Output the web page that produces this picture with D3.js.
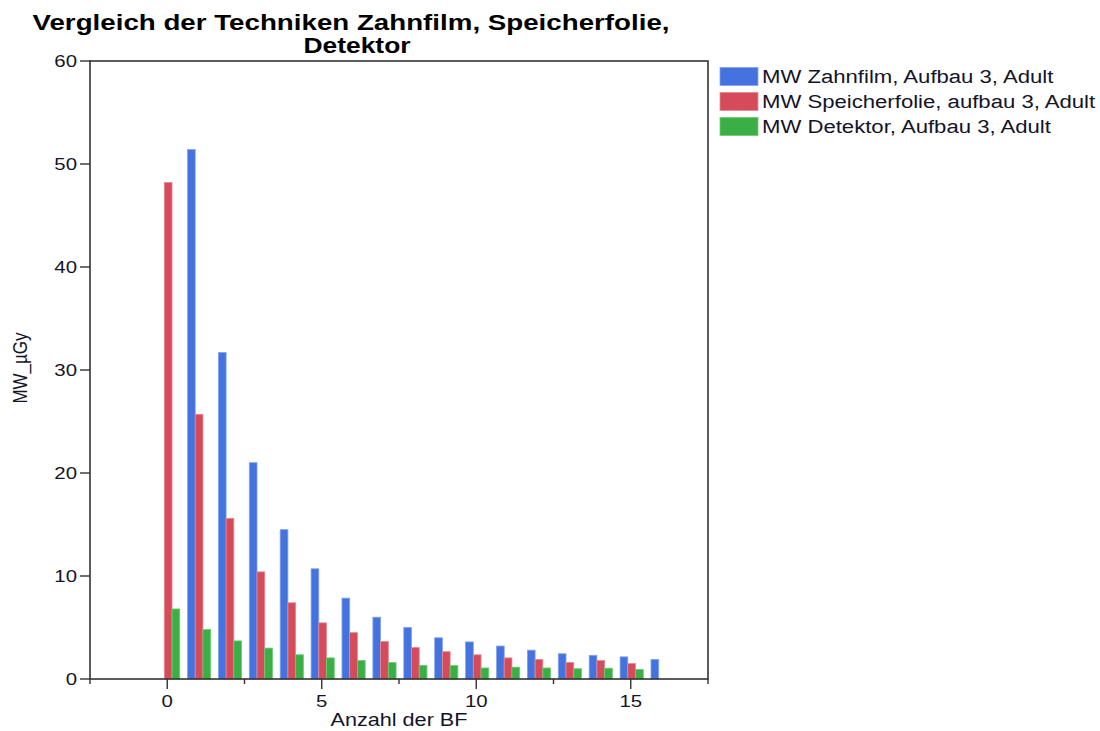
<!DOCTYPE html>
<html>
<head>
<meta charset="utf-8">
<script src="https://cdn.jsdelivr.net/npm/d3@7"></script>
<style>
  html, body { margin: 0; padding: 0; background: #fff; }
  svg { display: block; }
  text { font-family: "Liberation Sans", Arial, sans-serif; fill: #141428; }
</style>
</head>
<body>
<svg id="chart" width="1100" height="731"></svg>
<script>
// ---- data ----
const titleLines = ["Vergleich der Techniken Zahnfilm, Speicherfolie,", "Detektor"];
const xLabel = "Anzahl der BF";
const yLabel = "MW_\u00b5Gy";
const seriesNames = [
  "MW Zahnfilm, Aufbau 3, Adult",
  "MW Speicherfolie, aufbau 3, Adult",
  "MW Detektor, Aufbau 3, Adult"
];
const seriesColors = ["#4472DE", "#D64B5A", "#3BAF45"];
const xZahnfilm = [1,2,3,4,5,6,7,8,9,10,11,12,13,14,15,16];
const yZahnfilm = [51.4,31.7,21.0,14.5,10.7,7.85,6.0,5.0,4.0,3.6,3.2,2.8,2.45,2.3,2.15,1.9];
const xSpeicher = [0,1,2,3,4,5,6,7,8,9,10,11,12,13,14,15];
const ySpeicher = [48.2,25.7,15.6,10.4,7.4,5.45,4.5,3.65,3.05,2.65,2.35,2.05,1.9,1.6,1.8,1.5];
const xDetektor = [0,1,2,3,4,5,6,7,8,9,10,11,12,13,14,15];
const yDetektor = [6.8,4.8,3.7,3.0,2.35,2.05,1.8,1.6,1.33,1.3,1.07,1.15,1.07,1.0,1.05,0.94];
const xTicks = [0,5,10,15];
const xMinorTicks = [-2.5,2.5,7.5,12.5,17.5];
const yTicks = [0,10,20,30,40,50,60];

// ---- layout ----
const L = 90, R = 708, T = 61, B = 679;
const SX = 1.2; // horizontal text stretch
const svg = d3.select("#chart");

const x = d3.scaleLinear().domain([-2.5, 17.5]).range([L, R]);
const y = d3.scaleLinear().domain([0, 60]).range([B, T]);

const series = [
  {x: xZahnfilm, y: yZahnfilm, off: -1},
  {x: xSpeicher, y: ySpeicher, off: 0},
  {x: xDetektor, y: yDetektor, off: 1}
];
const barW = 0.25; // in x units
const shift = 0.03;

const lighter = c => { const h = d3.hsl(c); h.l = Math.min(1, h.l + 0.15); return h.formatHex(); };

series.forEach((s, i) => {
  const data = s.x.map((xv, j) => ({xv, yv: s.y[j]}));
  svg.append("g").selectAll("rect").data(data).join("rect")
    .attr("x", d => x(d.xv + s.off * barW - barW / 2 + shift))
    .attr("width", x(barW) - x(0))
    .attr("y", d => y(d.yv))
    .attr("height", d => y(0) - y(d.yv))
    .attr("fill", seriesColors[i])
    .attr("stroke", lighter(seriesColors[i]))
    .attr("stroke-width", 0.8);
});

// frame
svg.append("rect").attr("x", L).attr("y", T).attr("width", R - L).attr("height", B - T)
  .attr("fill", "none").attr("stroke", "#333").attr("stroke-width", 1.6);

// y axis ticks
const yAx = svg.append("g");
yTicks.forEach(t => {
  yAx.append("line").attr("x1", L - 10).attr("x2", L).attr("y1", y(t)).attr("y2", y(t))
    .attr("stroke", "#333").attr("stroke-width", 1.4);
  yAx.append("text").attr("transform", `translate(${L - 13},${y(t) + 6}) scale(${SX},1)`)
    .attr("text-anchor", "end").attr("font-size", 17).text(d3.format("d")(t));
});

// x axis ticks
const xAx = svg.append("g");
xTicks.forEach(t => {
  xAx.append("line").attr("x1", x(t)).attr("x2", x(t)).attr("y1", B).attr("y2", B + 10)
    .attr("stroke", "#333").attr("stroke-width", 1.4);
  xAx.append("text").attr("transform", `translate(${x(t)},${B + 28}) scale(${SX},1)`)
    .attr("text-anchor", "middle").attr("font-size", 17).text(d3.format("d")(t));
});
xMinorTicks.forEach(t => {
  xAx.append("line").attr("x1", x(t)).attr("x2", x(t)).attr("y1", B).attr("y2", B + 5)
    .attr("stroke", "#333").attr("stroke-width", 1.4);
});

// axis titles
svg.append("text").attr("transform", `translate(${(L + R) / 2},${B + 47}) scale(${SX},1)`)
  .attr("text-anchor", "middle").attr("font-size", 18).text(xLabel);
svg.append("text").attr("transform", `translate(27,${(T + B) / 2 - 2}) scale(${SX},1) rotate(-90)`)
  .attr("text-anchor", "middle").attr("font-size", 17).text(yLabel);

// title
const titlePos = [{cx: 351, sx: 1.26}, {cx: 357, sx: 1.2}];
titleLines.forEach((line, i) => {
  svg.append("text").attr("transform", `translate(${titlePos[i].cx},${30 + i * 23}) scale(${titlePos[i].sx},1)`)
    .attr("text-anchor", "middle").attr("font-size", 22).attr("font-weight", "bold")
    .style("fill", "#000").text(line);
});

// legend
seriesNames.forEach((name, i) => {
  const yy = 67.5 + i * 25;
  svg.append("rect").attr("x", 720).attr("y", yy).attr("width", 38).attr("height", 18)
    .attr("fill", seriesColors[i]).attr("stroke", lighter(seriesColors[i])).attr("stroke-width", 0.8);
  svg.append("text").attr("transform", `translate(762,${yy + 15.5}) scale(1.23,1)`)
    .attr("font-size", 18).text(name);
});
</script>
</body>
</html>
